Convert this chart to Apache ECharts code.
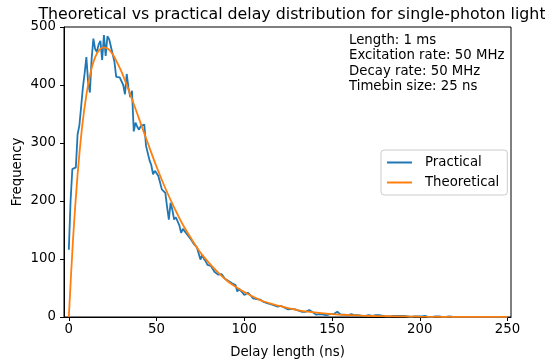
<html>
<head>
<meta charset="utf-8">
<script src="https://cdn.jsdelivr.net/npm/echarts@6/dist/echarts.min.js"></script>
</head>
<body style="margin:0">
<div id="main" style="width:545px;height:363px;"></div>
<script>
// measured histogram (1 ns steps, starting at 0 ns)
var practical = [
  116,200,255,256,258,315,330,362,395,420,448,405,387,445,480,462,457,470,476,443,
  486,450,484,479,476,453,440,414,416,413,410,400,384,419,395,379,390,320,335,328,
  323,329,326,332,295,298,270,262,246,252,248,243,232,220,218,214,190,168,197,185,
  168,172,173,158,145,152,150,144,140,139,132,127,124,120,119,99,107,100,96,90,
  92,88,87,78,80,73,76,74,70,66,64,62,60,58,57,55,44,49,46,42,
  38,40,42,41,36,32,33,31,29,30,27,26,25,24,24,22,21,20,19,18,
  21,19,17,16,15,13,12,14,15,13,12,11,12,9,7,9,11,12,10,8,
  6,4,4,5,3,4,4,3,4,5,4,5,7,9,6,4,3,4,2,3,
  4,5,4,3,2,3,2,2,3,2,2,3,1,2,2,3,2,3,1,2,
  1,1,2,1,1,2,1,2,3,2,3,2,1,1,1,0,1,1,0,1,
  0,1,1,2,1,0,1,0,1,1,2,1,0,0,1,0,0,1,0,0,
  0,0,1,0,0,0,0,0,1,0,0,0,0,0,0,0,0,0,0,0,
  0,0,0,0,0,0,0,0,0,0,0
];
var theoryT = [0,2.5,5,7.5,10,12.5,15,17.5,20,22.5,25,27.5,30,35,40,45,50,55,60,65,70,75,80,85,90,95,100,110,120,130,140,150,160,175,200,225,250];
var theoryV = [0,139,246,326,383,423,448,461,465,462,453,439,423,384,342,300,259,222,189,159,134,111,93,77,63,52,43,28,19,12,8,5,3.4,1.7,0.6,0.2,0.05];
var xTicks = [0,50,100,150,200,250];
var infoLines = ['Length: 1 ms','Excitation rate: 50 MHz','Decay rate: 50 MHz','Timebin size: 25 ns'];

var myChart = echarts.init(document.getElementById('main'));
var font = '"DejaVu Sans", sans-serif';
var fs = 13.3;

var practicalData = practical.map(function (v, i) { return [i, v]; });
var theoryData = theoryT.map(function (t, i) { return [t, theoryV[i]]; });

var option = {
  animation: false,
  backgroundColor: '#fff',
  textStyle: { fontFamily: font },
  title: {
    text: 'Theoretical vs practical delay distribution for single-photon light',
    left: 287, top: 2, textAlign: 'center',
    textStyle: { fontFamily: font, fontSize: 15.8, fontWeight: 'normal', color: '#000' }
  },
  grid: {
    left: 64, right: 34, top: 27, bottom: 46, outerBoundsMode: 'none',
    show: true, borderColor: '#000', borderWidth: 1
  },
  legend: {
    orient: 'vertical', left: 381, top: 150,
    data: ['Practical', 'Theoretical'],
    icon: 'rect', itemWidth: 25, itemHeight: 2, itemGap: 7,
    padding: [6, 8, 6, 6],
    borderColor: '#ccc', borderWidth: 1, borderRadius: 3,
    textStyle: { fontFamily: font, fontSize: fs, color: '#000', padding: [0, 0, 0, 8] }
  },
  xAxis: {
    type: 'value', min: -2.75, max: 252,
    name: 'Delay length (ns)', nameLocation: 'middle', nameGap: 29, nameMoveOverlap: false,
    nameTextStyle: { fontFamily: font, fontSize: fs, color: '#000' },
    axisLine: { show: true, onZero: false, lineStyle: { color: '#000', width: 1 } },
    axisTick: { show: true, length: 4, customValues: xTicks, lineStyle: { color: '#000' } },
    axisLabel: { customValues: xTicks, fontSize: fs, color: '#000', fontFamily: font, margin: 6 },
    splitLine: { show: false }
  },
  yAxis: {
    type: 'value', min: 0, max: 500, interval: 100,
    name: 'Frequency', nameLocation: 'middle', nameGap: 40, nameMoveOverlap: false,
    nameTextStyle: { fontFamily: font, fontSize: fs, color: '#000' },
    axisLine: { show: true, onZero: false, lineStyle: { color: '#000', width: 1 } },
    axisTick: { show: true, length: 4, lineStyle: { color: '#000' } },
    axisLabel: { fontSize: fs, color: '#000', fontFamily: font, margin: 8 },
    splitLine: { show: false }
  },
  graphic: infoLines.map(function (s, i) {
    return {
      type: 'text', left: 349, top: 34 + i * 15.3,
      style: { text: s, font: fs + 'px ' + font, fill: '#000' }
    };
  }),
  series: [
    {
      name: 'Practical', type: 'line', data: practicalData,
      symbol: 'none', color: '#1f77b4',
      lineStyle: { width: 1.8, color: '#1f77b4' }, z: 2
    },
    {
      name: 'Theoretical', type: 'line', data: theoryData, smooth: 0.3,
      symbol: 'none', color: '#ff7f0e',
      lineStyle: { width: 1.8, color: '#ff7f0e' }, z: 3
    }
  ]
};
myChart.setOption(option);
</script>
</body>
</html>
